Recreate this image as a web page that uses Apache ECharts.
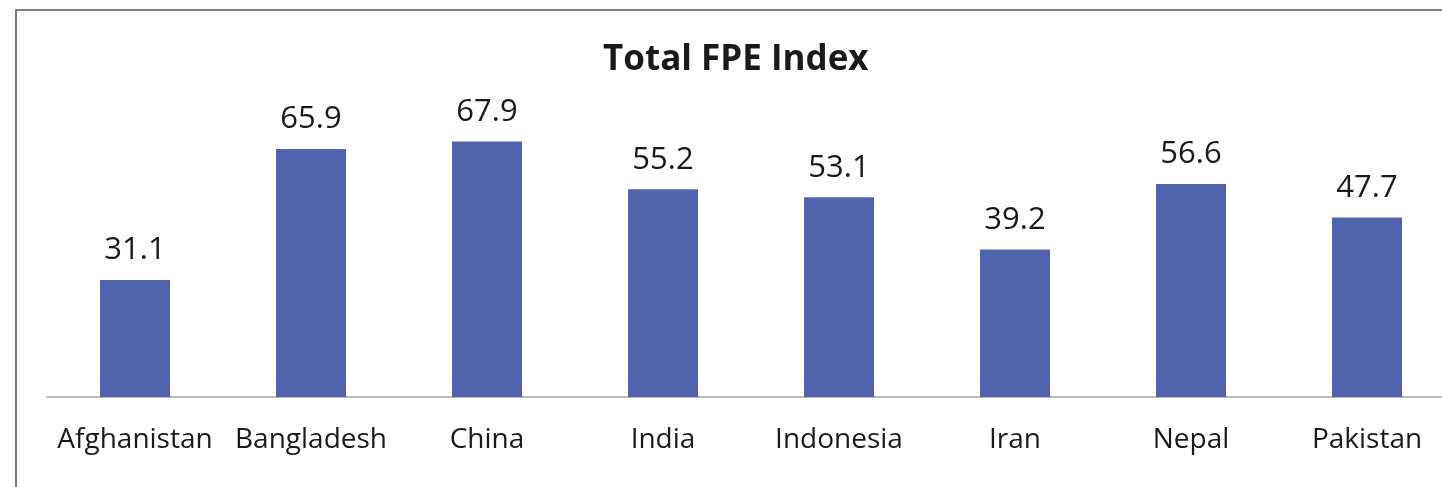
<!DOCTYPE html>
<html>
<head>
<meta charset="utf-8">
<script src="https://cdn.jsdelivr.net/npm/echarts@6/dist/echarts.min.js"></script>
<style>
html,body{margin:0;padding:0;background:#fff;overflow:hidden;}
#chart{width:1470px;height:487px;}
</style>
</head>
<body>
<div id="chart"></div>
<script>
const categories = ["Afghanistan", "Bangladesh", "China", "India", "Indonesia", "Iran", "Nepal", "Pakistan"];
const fpeIndex = [31.1, 65.9, 67.9, 55.2, 53.1, 39.2, 56.6, 47.7];
const titleText = "Total FPE Index";

const chart = echarts.init(document.getElementById('chart'));
chart.setOption({
  animation: false,
  backgroundColor: '#ffffff',
  title: {
    text: titleText,
    left: 603,
    top: 43,
    padding: 0,
    textStyle: { fontFamily: 'Open Sans', fontWeight: 'bold', fontSize: 35, color: '#1a1a1a' }
  },
  graphic: [{
    type: 'rect',
    silent: true,
    shape: { x: 16, y: 10, width: 1500, height: 600 },
    style: { fill: 'none', stroke: '#5a5a5a', lineWidth: 1.6 }
  }],
  grid: { left: 47, width: 1408, top: 96, bottom: 90 },
  xAxis: {
    type: 'category',
    data: categories,
    axisLine: { lineStyle: { color: '#a6a6a6', width: 1.5 } },
    axisTick: { show: false },
    axisLabel: { interval: 0, margin: 29, fontFamily: 'Open Sans', fontSize: 28, color: '#1a1a1a' }
  },
  yAxis: {
    type: 'value',
    min: 0, max: 80, interval: 10,
    show: false
  },
  series: [{
    type: 'bar',
    data: fpeIndex,
    barWidth: 70,
    itemStyle: { color: '#5163ad' },
    label: {
      show: true,
      position: 'top',
      distance: 14,
      fontFamily: 'Open Sans',
      fontSize: 31,
      color: '#1a1a1a'
    }
  }]
});
</script>
</body>
</html>
